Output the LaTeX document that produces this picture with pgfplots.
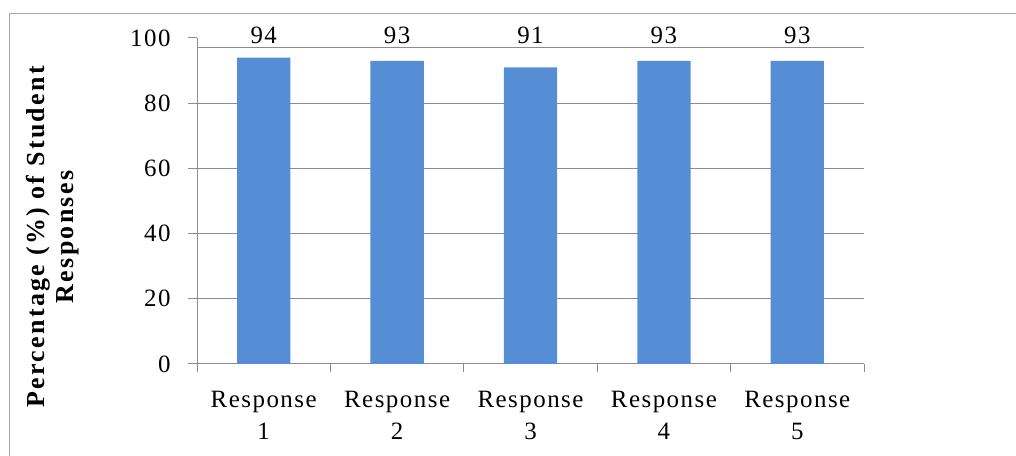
\documentclass[border=0pt]{standalone}
\usepackage{fontspec}
\setmainfont{Liberation Serif}
\usepackage{pgfplots}
\pgfplotsset{compat=1.18}
\usepackage{pgfplotstable}

\definecolor{barblue}{HTML}{558ED5}
\definecolor{axisgray}{HTML}{8C8C8C}
\definecolor{framegray}{HTML}{A6A6A6}

% share of students giving each response (%)
\pgfplotstableread{
idx value
1 94
2 93
3 91
4 93
5 93
}\responses

\newcommand\chartfont{\fontsize{25}{32}\selectfont\addfontfeatures{LetterSpace=6}}

\begin{document}
\begin{tikzpicture}
\begin{axis}[
  at={(197bp,92bp)}, anchor=south west,
  scale only axis, width=667bp, height=326bp,
  xmin=0.5, xmax=5.5, ymin=0, ymax=100,
  clip=false,
  axis x line=bottom, axis y line=left,
  axis line style={-, draw=axisgray, line width=1bp},
  tick align=outside,
  major tick length=9bp, minor tick length=8bp,
  tick style={axisgray, line width=1bp},
  ytick={0,20,...,80}, extra y ticks={100},
  extra y tick style={grid=none},
  ymajorgrids, grid style={axisgray, line width=1bp},
  xtick={1,...,5},
  xticklabels={{Response\\1},{Response\\2},{Response\\3},{Response\\4},{Response\\5}},
  minor xtick={0.5,1.5,...,5.5},
  major x tick style={draw=none},
  ticklabel style={font=\chartfont},
  /pgf/number format/assume math mode=true,
  yticklabel style={xshift=-14bp},
  xticklabel style={align=center, yshift=-15bp},
  ylabel={Percentage (\%) of Student\\Responses},
  ylabel style={font=\fontsize{26}{29}\selectfont\bfseries\addfontfeatures{LetterSpace=9},
    align=center, at={(axis description cs:-0.217,0.39)}, anchor=center},
]
\addplot[ybar, bar width=53.3bp, fill=barblue, draw=none]
  table[x=idx, y=value] {\responses};
% line below the top of the value axis
\draw[axisgray, line width=1bp] (axis cs:0.5,97) -- (axis cs:5.5,97);
% value labels, set on one common baseline
\addplot[draw=none, mark=none, point meta=explicit,
  nodes near coords={\pgfmathprintnumber{\pgfplotspointmeta}},
  every node near coord/.append style={anchor=base, inner sep=0pt, font=\chartfont}]
  table[x=idx, y expr=98.3, meta=value] {\responses};
\end{axis}
\draw[framegray, line width=1bp] (9bp,-20bp) rectangle (1040bp,442bp);
\pgfresetboundingbox
\useasboundingbox (0,0) rectangle (1016bp,456bp);
\end{tikzpicture}
\end{document}
